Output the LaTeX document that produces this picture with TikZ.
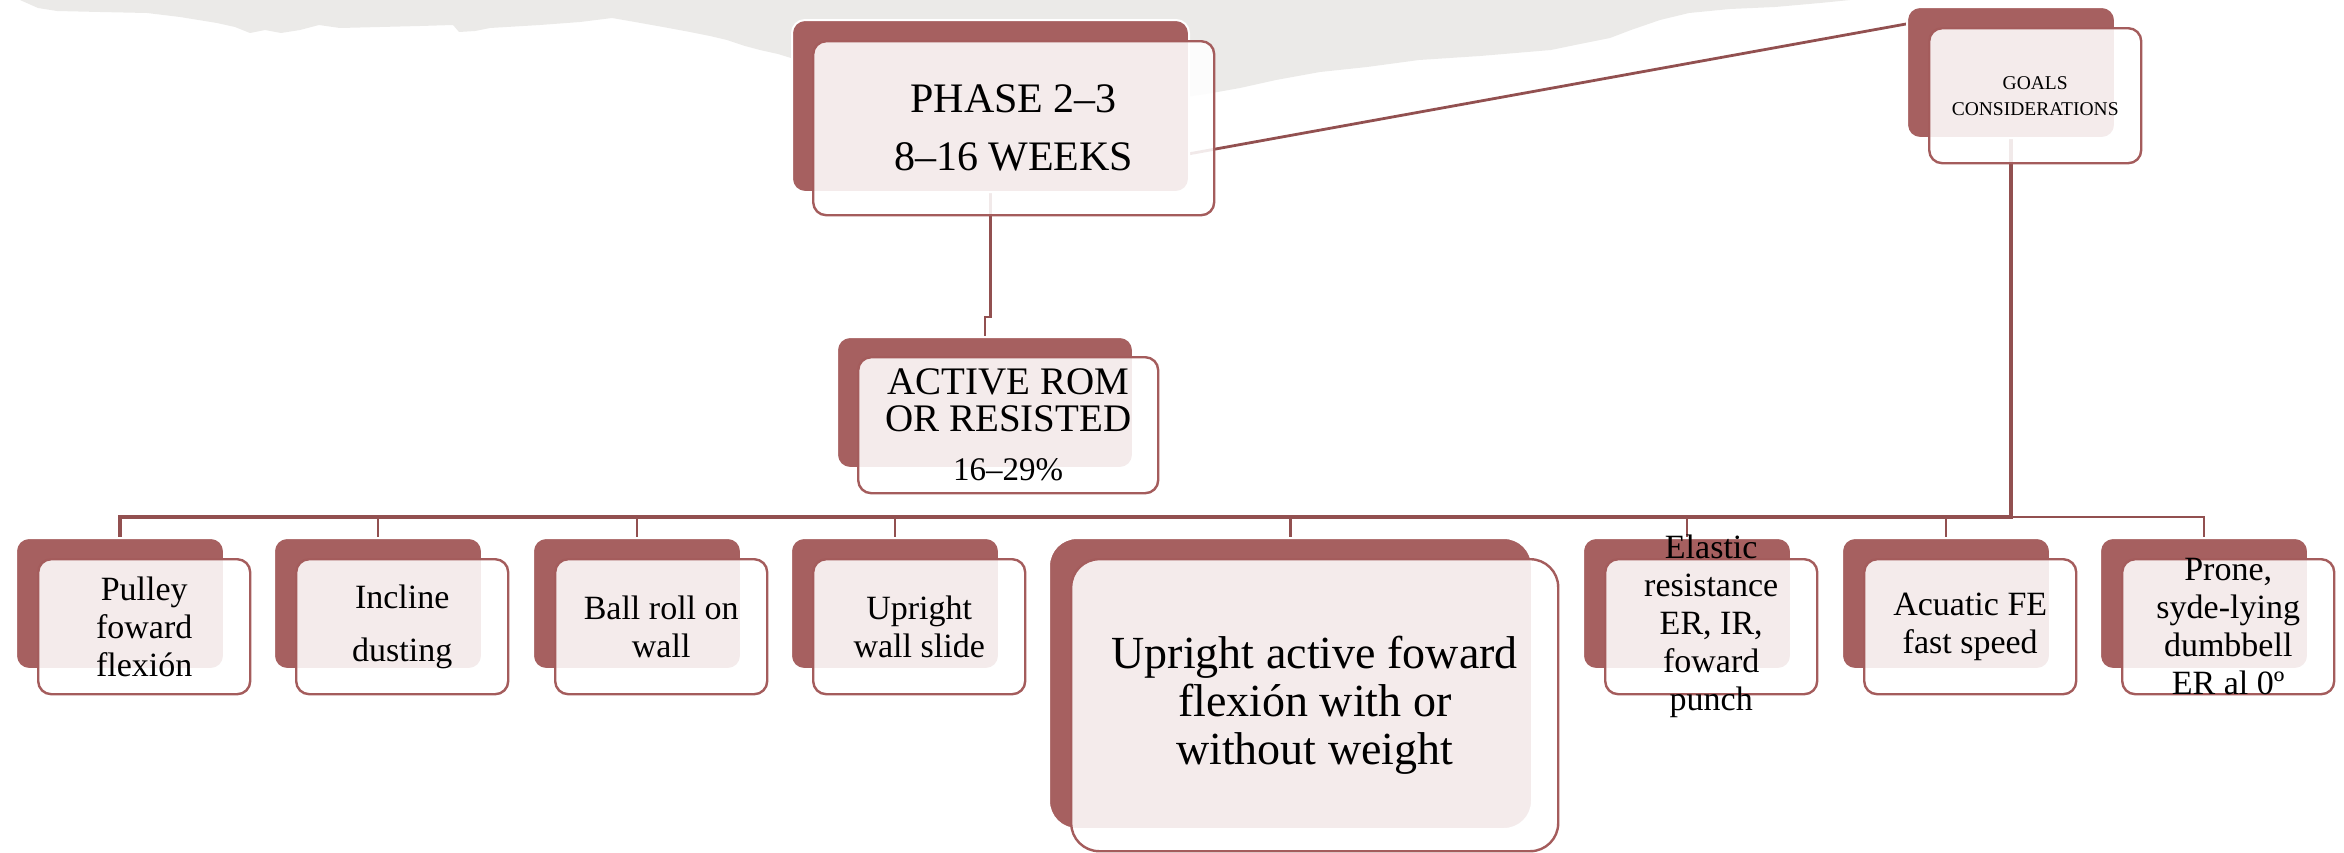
\documentclass[tikz,border=0pt]{standalone}
\usepackage{fontspec}
\setmainfont{Liberation Serif}
\usetikzlibrary{calc}

\definecolor{boxred}{RGB}{166,96,96}
\definecolor{edgered}{RGB}{164,92,92}
\definecolor{linkred}{RGB}{146,80,80}
\definecolor{paper}{RGB}{235,234,232}

\newcommand\phasefont{\fontsize{42}{58}\selectfont}
\newcommand\goalfont{\fontsize{19.5}{26}\selectfont}
\newcommand\romfont{\fontsize{39}{37}\selectfont}
\newcommand\childfont{\fontsize{34}{38}\selectfont}
\newcommand\bigboxfont{\fontsize{46}{48}\selectfont}

\pgfdeclarelayer{bg}
\pgfsetlayers{bg,main}

\begin{document}
\begin{tikzpicture}[x=1pt,y=-1pt,
  back/.style={draw=white, line width=2pt, fill=boxred, rounded corners=13pt,
    inner sep=0pt, anchor=north west, minimum width=208pt, minimum height=131pt},
  front/.style={draw=edgered, line width=2.4pt, fill=white, fill opacity=0.88,
    text opacity=1, rounded corners=13pt, inner sep=0pt, anchor=north west,
    minimum width=212pt, minimum height=135pt, align=center},
  kidtext/.style={align=center, inner sep=0pt, font=\childfont},
  link/.style={draw=linkred, line width=2.8pt},
  trunk/.style={draw=linkred, line width=3.3pt},
]
\useasboundingbox (0,0) rectangle (2344,852);

% top-level boxes
\node[back, minimum width=397pt, minimum height=172pt] (phaseD) at (791,19) {};
\node[front, minimum width=401pt, minimum height=174pt, font=\phasefont] (phaseF) at (812,40)
  {PHASE 2–3\\8–16 WEEKS};

\node[back] (goalsD) at (1906,6) {};
\node[front, font=\goalfont] (goalsF) at (1928,27) {GOALS\\CONSIDERATIONS};

\node[back, minimum width=296pt] (activeD) at (836,336) {};
\node[front, minimum width=300pt, minimum height=136pt, font=\romfont] (activeF) at (857,356)
  {ACTIVE ROM\\OR RESISTED\\[12pt]{\fontsize{33}{37}\selectfont 16–29\%}};

% exercise boxes
\node[back] (dk1) at (15,537) {};
\node[front] (fr1) at (37,558) {};
\node[kidtext] (t1) at (fr1.center) {Pulley\\foward\\flexión};

\node[back] (dk2) at (273,537) {};
\node[front] (fr2) at (295,558) {};
\node[kidtext] (t2) at (fr2.center) {Incline\\[15pt]dusting};

\node[back] (dk3) at (532,537) {};
\node[front] (fr3) at (554,558) {};
\node[kidtext] (t3) at (fr3.center) {Ball roll on\\wall};

\node[back] (dk4) at (790,537) {};
\node[front] (fr4) at (812,558) {};
\node[kidtext] (t4) at (fr4.center) {Upright\\wall slide};

\node[back, minimum width=483pt, minimum height=291pt, rounded corners=28pt] (dk5) at (1048,537) {};
\node[front, minimum width=487pt, minimum height=292pt, rounded corners=28pt, font=\bigboxfont] (fr5) at (1070,558)
  {Upright active foward\\flexión with or\\without weight};

\node[back] (dk6) at (1582,537) {};
\node[front] (fr6) at (1604,558) {};
\node[kidtext] (t6) at (fr6.center) {Elastic\\resistance\\ER, IR,\\foward\\punch};

\node[back] (dk7) at (1841,537) {};
\node[front] (fr7) at (1863,558) {};
\node[kidtext] (t7) at (fr7.center) {Acuatic FE\\fast speed};

\node[back] (dk8) at (2099,537) {};
\node[front] (fr8) at (2121,558) {};
\node[kidtext] (t8) at (fr8.center) {Prone,\\syde-lying\\dumbbell\\ER al 0º};

\begin{pgfonlayer}{bg}
  % torn paper strip along the top
  \fill[paper] (20,0) -- (38,8) -- (57,11) -- (100,12) -- (147,13) -- (180,17)
    -- (217,23) -- (235,27) -- (250,33) -- (265,30) -- (281,33) -- (300,30)
    -- (319,25) -- (340,28) -- (380,27) -- (420,26) -- (453,25) -- (459,32)
    -- (475,31) -- (490,28) -- (540,25) -- (580,22) -- (612,18) -- (635,22)
    -- (663,27) -- (690,32) -- (710,36) -- (727,40) -- (745,46) -- (760,50)
    -- (778,54) -- (791,58) -- (830,75) -- (900,95) -- (1000,110) -- (1100,110)
    -- (1212,93) -- (1240,88) -- (1276,80) -- (1320,72) -- (1367,67) -- (1419,60)
    -- (1480,56) -- (1551,50) -- (1580,44) -- (1610,38) -- (1631,30) -- (1660,20)
    -- (1689,13) -- (1730,9) -- (1775,7) -- (1820,3) -- (1850,0) -- cycle;

  % connectors
  \coordinate (pgA) at (1188,154);
  \coordinate (pgB) at (1906,24);
  \draw[link] (pgA) -- (pgB);
  \draw[link] (phaseD.south) -- ++(0,124) -| (activeD.north);
  \foreach \i in {1,...,8}
    \draw[link] (goalsD.south) -- ++(0,378) -| (dk\i.north);
  \draw[trunk] (goalsD.south) -- ++(0,378) -| (dk1.north);
\end{pgfonlayer}
\end{tikzpicture}
\end{document}
